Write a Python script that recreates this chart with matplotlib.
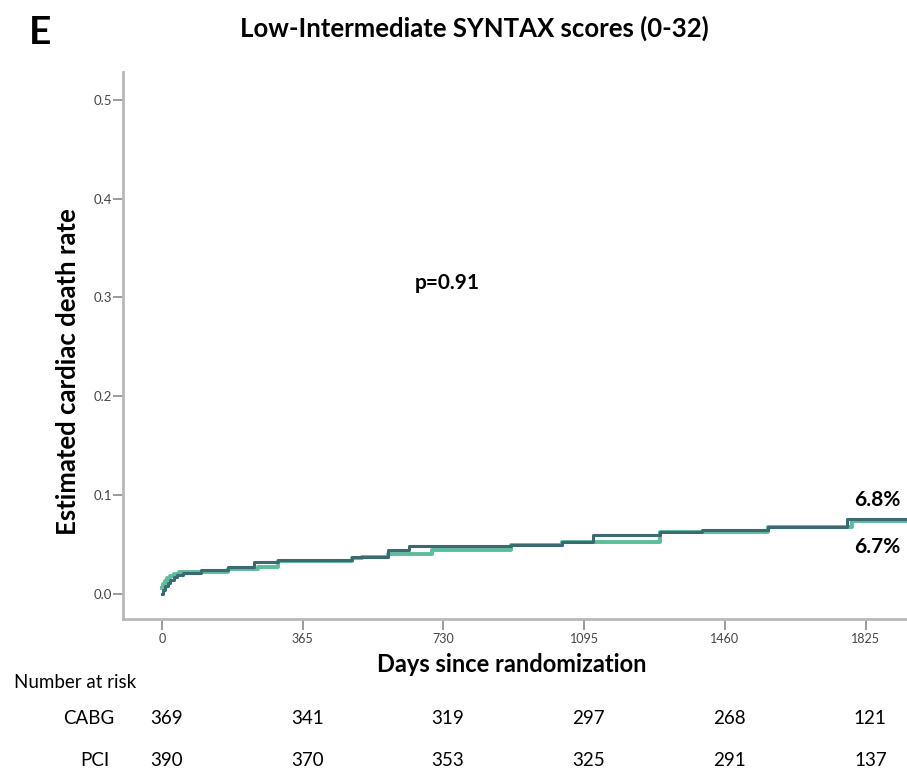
import matplotlib.pyplot as plt
import matplotlib.transforms as mtransforms

plt.rcParams['font.family'] = ['Lato', 'DejaVu Sans']

# step curves (days, cumulative cardiac death rate)
cabg_days = [0, 4, 9, 15, 22, 30, 40, 55, 100, 171, 238, 300, 493, 586, 640, 905, 1037, 1118, 1291, 1400, 1572, 1776, 1935]
cabg_rate = [0.0, 0.004, 0.008, 0.011, 0.014, 0.017, 0.019, 0.021, 0.024, 0.027, 0.032, 0.034, 0.0375, 0.044, 0.049, 0.0496, 0.0526, 0.0597, 0.0628, 0.0648, 0.068, 0.0755, 0.0755]
pci_days = [0, 3, 8, 14, 22, 32, 45, 171, 250, 300, 493, 520, 586, 700, 905, 1037, 1118, 1291, 1572, 1790, 1935]
pci_rate = [0.006, 0.010, 0.013, 0.016, 0.018, 0.020, 0.022, 0.025, 0.027, 0.033, 0.036, 0.0375, 0.040, 0.0445, 0.0496, 0.0526, 0.053, 0.0628, 0.0675, 0.074, 0.074]

xticks = [0, 365, 730, 1095, 1460, 1825]
yticks = [0.0, 0.1, 0.2, 0.3, 0.4, 0.5]
risk_days = [0, 365, 730, 1095, 1460, 1825]
cabg_at_risk = [369, 341, 319, 297, 268, 121]
pci_at_risk = [390, 370, 353, 325, 291, 137]

dark = '#3c6a73'
green = '#5cbd9c'
W, H = 907, 772

fig = plt.figure(figsize=(W / 100, H / 100), dpi=100)
ax = fig.add_axes([123 / W, 1 - 619 / H, 1 - 123 / W, (619 - 72) / H])

ax.step(pci_days, pci_rate, where='post', color=green, lw=2.8)
ax.step(cabg_days, cabg_rate, where='post', color=dark, lw=2.2)

ax.set_xlim(-101, 1932)
ax.set_ylim(-0.0253, 0.528)
ax.set_xticks(xticks)
ax.set_yticks(yticks)
ax.set_xticklabels([str(t) for t in xticks])
ax.set_yticklabels(['%.1f' % t for t in yticks])
ax.tick_params(axis='x', length=8, width=1.2, color='#8a8a8a', pad=2, labelsize=9, labelcolor='#444444')
ax.tick_params(axis='y', length=7, width=1.2, color='#8a8a8a', pad=1, labelsize=9.5, labelcolor='#444444')
for s in ['top', 'right']:
    ax.spines[s].set_visible(False)
for s in ['left', 'bottom']:
    ax.spines[s].set_color('#b8b8b8')
    ax.spines[s].set_linewidth(2)

ax.text(739, 0.315, 'p=0.91', ha='center', va='center', fontsize=15, fontweight='bold')
ax.text(1854, 0.095, '6.8%', ha='center', va='center', fontsize=15, fontweight='bold')
ax.text(1854, 0.0476, '6.7%', ha='center', va='center', fontsize=15, fontweight='bold')

fig.text(40 / W, 1 - 33 / H, 'E', ha='center', va='center', fontsize=28, fontweight='bold')
fig.text(474 / W, 1 - 28 / H, 'Low-Intermediate SYNTAX scores (0-32)', ha='center', va='center',
         fontsize=18.5, fontweight='bold')
fig.text(68 / W, 1 - 372 / H, 'Estimated cardiac death rate', ha='center', va='center',
         rotation=90, fontsize=18.5, fontweight='bold')
fig.text(512 / W, 1 - 664 / H, 'Days since randomization', ha='center', va='center',
         fontsize=17, fontweight='bold')

# number at risk table
fig.text(14 / W, 1 - 683 / H, 'Number at risk', ha='left', va='center', fontsize=13.5)
fig.text(114 / W, 1 - 719 / H, 'CABG', ha='right', va='center', fontsize=13.5)
fig.text(110 / W, 1 - 760 / H, 'PCI', ha='right', va='center', fontsize=13.5)
trans = mtransforms.blended_transform_factory(ax.transData, fig.transFigure)
for d, c, p in zip(risk_days, cabg_at_risk, pci_at_risk):
    fig.text(d + 12, 1 - 719 / H, str(c), ha='center', va='center', fontsize=13.5, transform=trans)
    fig.text(d + 12, 1 - 760 / H, str(p), ha='center', va='center', fontsize=13.5, transform=trans)

fig.savefig('out.png', dpi=100)
